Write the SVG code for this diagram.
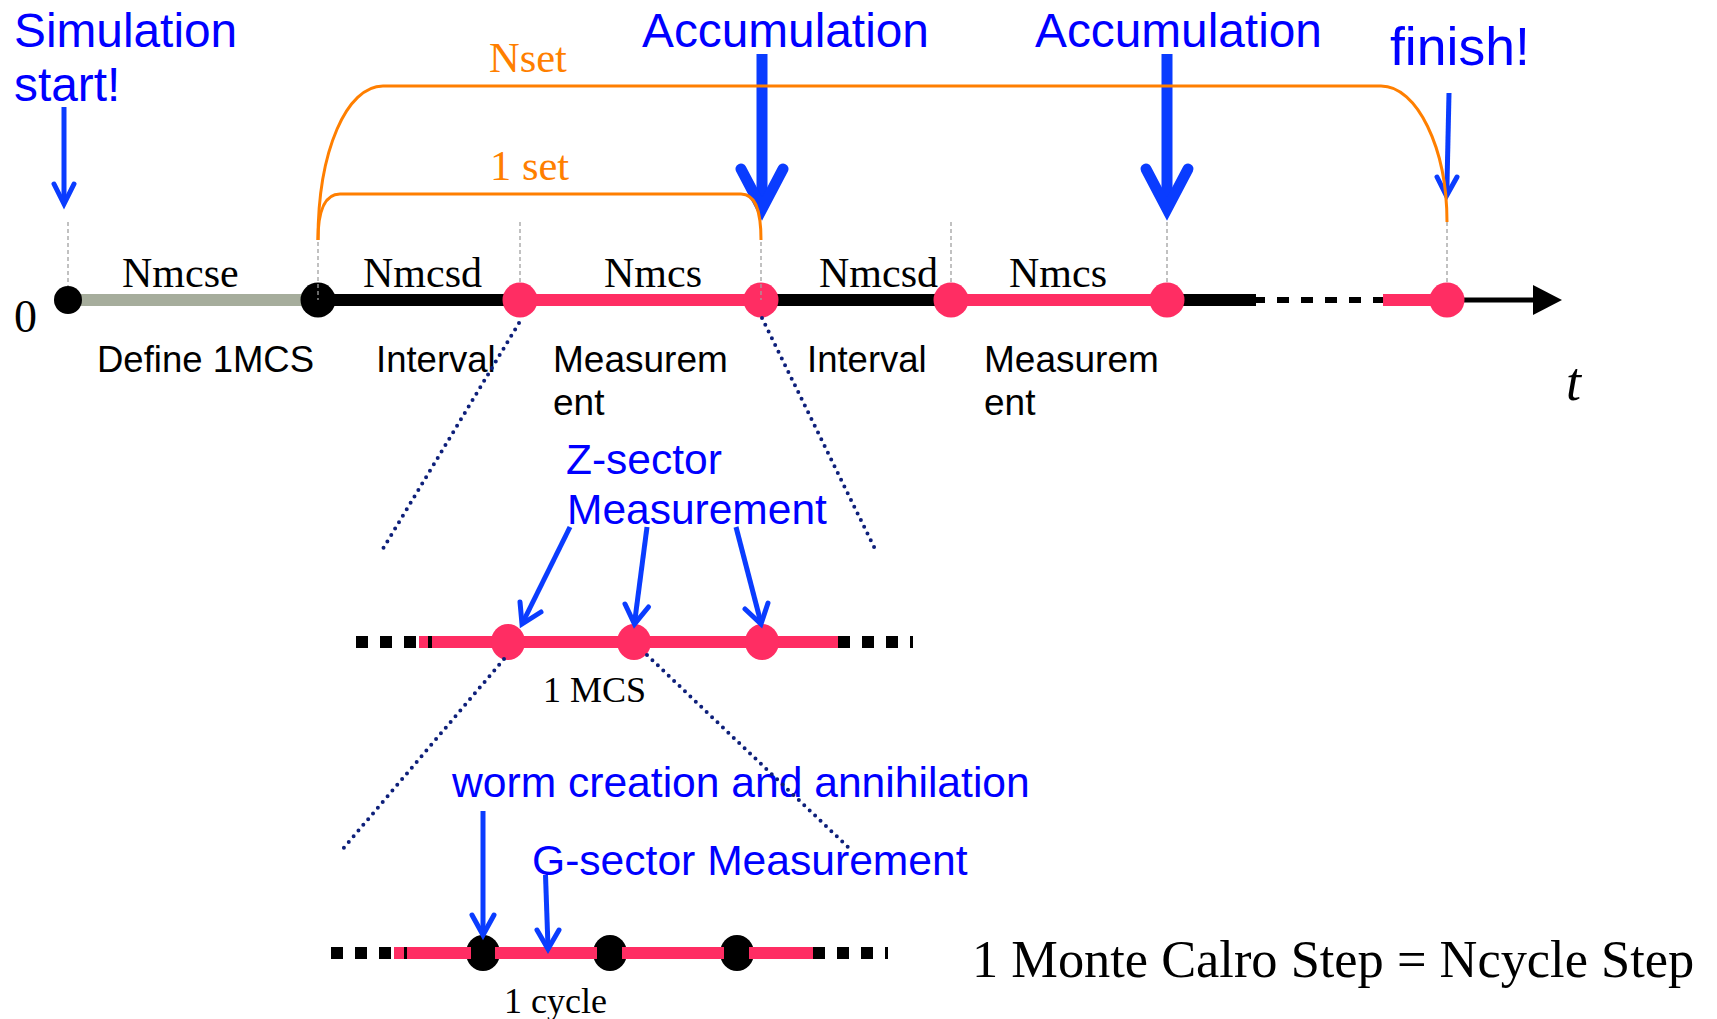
<svg xmlns="http://www.w3.org/2000/svg" width="1717" height="1019" viewBox="0 0 1717 1019">
  <style>
    .sans { font-family: "Liberation Sans", Arial, sans-serif; }
    .serif { font-family: "Liberation Serif", "Times New Roman", serif; }
    .blue { fill: #0000ff; }
    .blk { fill: #000000; }
    .orange-t { fill: #ff7f00; }
    .seg { fill: none; stroke-width: 12; stroke-linecap: butt; }
    .pink { stroke: #ff2d63; }
    .black { stroke: #000000; }
    .gray { stroke: #a6ad9c; }
    .dash { stroke-dasharray: 12 12; }
    .guide { stroke: #a0a0a0; stroke-width: 1.3; stroke-dasharray: 4 3; fill: none; }
    .zoomline { stroke: #0d1f7a; stroke-width: 4; stroke-dasharray: 0 7.5; stroke-linecap: round; fill: none; }
    .bracket { stroke: #ff7f00; stroke-width: 3; fill: none; }
    .arrow { stroke: #0a3cff; fill: none; stroke-linejoin: miter; stroke-miterlimit: 10; }
    .thin { stroke-width: 5; }
    .thick { stroke-width: 11; }
    .pdot { fill: #ff2d63; }
    .bdot { fill: #000000; }
  </style>

  <!-- main time axis -->
  <g id="axis-main">
    <line class="seg gray" x1="68" y1="300" x2="318" y2="300"/>
    <line class="seg black" x1="318" y1="300" x2="520" y2="300"/>
    <line class="seg pink" x1="520" y1="300" x2="761" y2="300"/>
    <line class="seg black" x1="761" y1="300" x2="951" y2="300"/>
    <line class="seg pink" x1="951" y1="300" x2="1167" y2="300"/>
    <line class="seg black" x1="1167" y1="300" x2="1256" y2="300"/>
    <line class="seg black dash" x1="1253" y1="300" x2="1383" y2="300" style="stroke-width:6"/>
    <line class="seg pink" x1="1383" y1="300" x2="1447" y2="300"/>
    <line x1="1447" y1="300" x2="1536" y2="300" stroke="#000" stroke-width="5"/>
    <polygon points="1533,285 1562,300 1533,315" fill="#000"/>
  </g>

  <!-- event points on the main axis -->
  <g id="node-start"><circle class="bdot" cx="68" cy="300" r="14"/></g>
  <g id="node-define-end"><circle class="bdot" cx="318" cy="300" r="17.5"/></g>
  <g id="node-meas1-start"><circle class="pdot" cx="520" cy="300" r="17.5"/></g>
  <g id="node-meas1-end"><circle class="pdot" cx="761" cy="300" r="17.5"/></g>
  <g id="node-meas2-start"><circle class="pdot" cx="951" cy="300" r="17.5"/></g>
  <g id="node-meas2-end"><circle class="pdot" cx="1167" cy="300" r="17.5"/></g>
  <g id="node-finish"><circle class="pdot" cx="1447" cy="300" r="17.5"/></g>

  <!-- vertical guides above the event points -->
  <g id="guides">
    <line class="guide" x1="68" y1="222" x2="68" y2="286"/>
    <line class="guide" x1="318" y1="242" x2="318" y2="300"/>
    <line class="guide" x1="520" y1="222" x2="520" y2="283"/>
    <line class="guide" x1="761" y1="242" x2="761" y2="300"/>
    <line class="guide" x1="951" y1="222" x2="951" y2="283"/>
    <line class="guide" x1="1167" y1="222" x2="1167" y2="283"/>
    <line class="guide" x1="1447" y1="222" x2="1447" y2="283"/>
  </g>

  <!-- labels of the main axis -->
  <g id="axis-labels">
    <text class="serif blk" x="14" y="332" font-size="46">0</text>
    <text class="serif blk" x="122" y="287" font-size="42">Nmcse</text>
    <text class="serif blk" x="363" y="287" font-size="42">Nmcsd</text>
    <text class="serif blk" x="604" y="287" font-size="42">Nmcs</text>
    <text class="serif blk" x="819" y="287" font-size="42">Nmcsd</text>
    <text class="serif blk" x="1009" y="287" font-size="42">Nmcs</text>
    <text class="sans blk" x="97" y="372" font-size="36.5">Define 1MCS</text>
    <text class="sans blk" x="376" y="372" font-size="36.5">Interval</text>
    <text class="sans blk" x="553" y="372" font-size="37">Measurem</text>
    <text class="sans blk" x="553" y="415" font-size="37">ent</text>
    <text class="sans blk" x="807" y="372" font-size="36.5">Interval</text>
    <text class="sans blk" x="984" y="372" font-size="37">Measurem</text>
    <text class="sans blk" x="984" y="415" font-size="37">ent</text>
    <text class="serif blk" x="1566" y="400" font-size="54" font-style="italic">t</text>
  </g>

  <!-- event captions -->
  <g id="captions">
    <text class="sans blue" x="14" y="47" font-size="47.8">Simulation</text>
    <text class="sans blue" x="14" y="101" font-size="47.8">start!</text>
    <text class="sans blue" x="642" y="47" font-size="47.8">Accumulation</text>
    <text class="sans blue" x="1035" y="47" font-size="47.8">Accumulation</text>
    <text class="sans blue" x="1390" y="65" font-size="53.5">finish!</text>
    <text class="serif orange-t" x="489" y="72" font-size="42.5">Nset</text>
    <text class="serif orange-t" x="490" y="180" font-size="42.5">1 set</text>
  </g>

  <!-- one measurement period: 1 MCS -->
  <g id="axis-mcs">
    <line class="seg black dash" x1="356" y1="642" x2="416" y2="642"/>
    <line class="seg pink" x1="419" y1="642" x2="838" y2="642"/>
    <line class="seg black" x1="428" y1="642" x2="432" y2="642"/>
    <line class="seg black dash" x1="838" y1="642" x2="913" y2="642"/>
  </g>
  <g id="node-z1"><ellipse class="pdot" cx="508" cy="642" rx="17" ry="18"/></g>
  <g id="node-z2"><ellipse class="pdot" cx="634" cy="642" rx="17" ry="18"/></g>
  <g id="node-z3"><ellipse class="pdot" cx="762" cy="642" rx="17" ry="18"/></g>
  <g id="mcs-labels">
    <text class="sans blue" x="566" y="474" font-size="42.5">Z-sector</text>
    <text class="sans blue" x="567" y="524" font-size="42.5">Measurement</text>
    <text class="serif blk" x="543" y="702" font-size="36">1 MCS</text>
  </g>

  <!-- one cycle inside a MCS -->
  <g id="axis-cycle">
    <line class="seg black dash" x1="331" y1="953" x2="391" y2="953"/>
    <line class="seg black dash" x1="813" y1="953" x2="888" y2="953"/>
  </g>
  <g id="node-c1"><ellipse class="bdot" cx="483" cy="953" rx="17" ry="18"/></g>
  <g id="node-c2"><ellipse class="bdot" cx="610" cy="953" rx="17" ry="18"/></g>
  <g id="node-c3"><ellipse class="bdot" cx="737" cy="953" rx="17" ry="18"/></g>
  <g id="axis-cycle-pink">
    <line class="seg pink" x1="394" y1="953" x2="471" y2="953"/>
    <line class="seg black" x1="404" y1="953" x2="407" y2="953"/>
    <line class="seg pink" x1="495" y1="953" x2="597" y2="953"/>
    <line class="seg pink" x1="622" y1="953" x2="724" y2="953"/>
    <line class="seg pink" x1="749" y1="953" x2="813" y2="953"/>
  </g>
  <g id="cycle-labels">
    <text class="sans blue" x="452" y="797" font-size="42.6">worm creation and annihilation</text>
    <text class="sans blue" x="532" y="875" font-size="42.6">G-sector Measurement</text>
    <text class="serif blk" x="504" y="1013" font-size="36">1 cycle</text>
    <text class="serif blk" x="972" y="977" font-size="52.4">1 Monte Calro Step = Ncycle Step</text>
  </g>

  <!-- connectors: arrows, magnification lines, brackets -->
  <g id="connectors">
    <!-- start -->
    <line class="arrow thin" x1="64" y1="107" x2="64" y2="202"/>
    <polyline class="arrow thin" points="54,184 64,204 74,184" stroke-linecap="round"/>
    <!-- accumulation -->
    <line class="arrow thick" x1="762" y1="54" x2="762" y2="205"/>
    <polyline class="arrow thick" points="741,169 762,209 783,169" stroke-linecap="round"/>
    <line class="arrow thick" x1="1167" y1="54" x2="1167" y2="205"/>
    <polyline class="arrow thick" points="1146,169 1167,209 1188,169" stroke-linecap="round"/>
    <!-- finish -->
    <line class="arrow thin" x1="1449" y1="93" x2="1446.8" y2="193"/>
    <polyline class="arrow thin" points="1437,177 1446.5,196 1457,177" stroke-linecap="round"/>
    <!-- Z-sector measurements -->
    <line class="arrow thin" x1="570" y1="527" x2="522" y2="624"/>
    <polyline class="arrow thin" points="520,602 522,624 541,612" stroke-linecap="round"/>
    <line class="arrow thin" x1="647" y1="527" x2="634.5" y2="623"/>
    <polyline class="arrow thin" points="625,604 634.5,624 648.5,607" stroke-linecap="round"/>
    <line class="arrow thin" x1="736" y1="527" x2="761" y2="623"/>
    <polyline class="arrow thin" points="745,609 761,624 768,603" stroke-linecap="round"/>
    <!-- worm / G-sector -->
    <line class="arrow thin" x1="483" y1="811" x2="483" y2="933"/>
    <polyline class="arrow thin" points="472,915 483,935 494,915" stroke-linecap="round"/>
    <line class="arrow thin" x1="545.5" y1="875" x2="548" y2="947"/>
    <polyline class="arrow thin" points="537,930 548,949 559,930" stroke-linecap="round"/>

    <!-- magnification lines -->
    <line class="zoomline" x1="519" y1="323" x2="381" y2="552"/>
    <line class="zoomline" x1="762" y1="318" x2="875" y2="549"/>
    <line class="zoomline" x1="504" y1="659" x2="342" y2="850"/>
    <line class="zoomline" x1="647" y1="655" x2="849" y2="848"/>

    <!-- brackets -->
    <path class="bracket" d="M318,240 C318,150 347,86 383,86 L1381,86 C1417,86 1447,148 1447,222"/>
    <path class="bracket" d="M318,240 C318,207 326,194 340,194 L741,194 C754,194 761,207 761,240"/>
  </g>
</svg>
